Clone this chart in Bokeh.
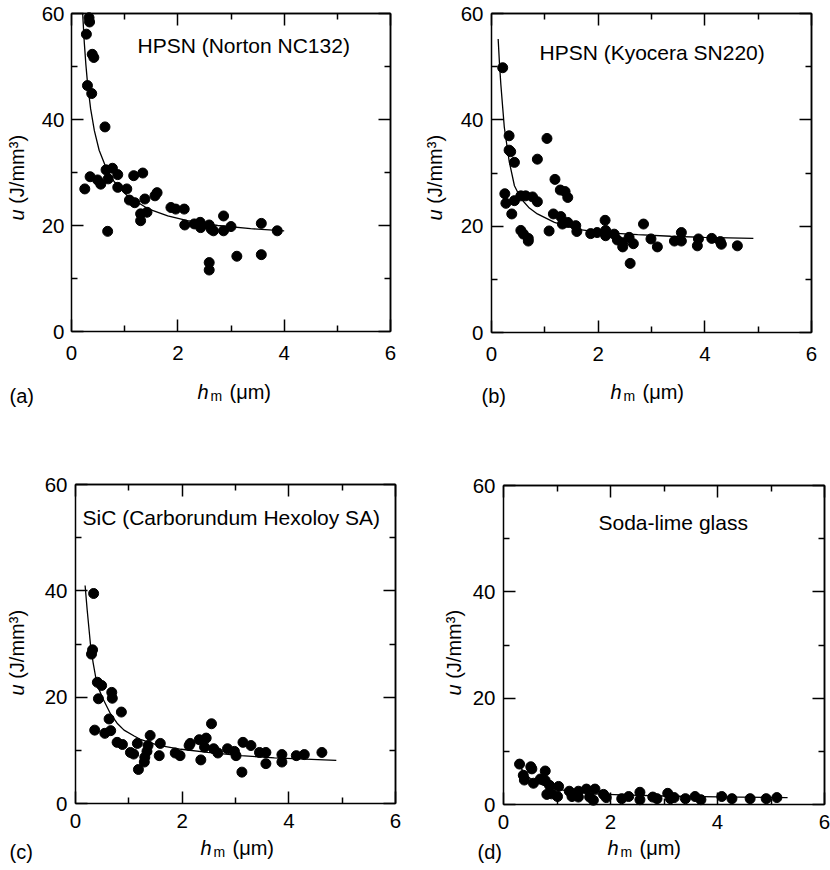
import math
from bokeh.plotting import figure
from bokeh.models import Range1d, FixedTicker, Label, LinearAxis
from bokeh.layouts import gridplot
from bokeh.embed import file_html
from bokeh.resources import INLINE

FONT = "Liberation Sans"

# ---------------- data ----------------
x_ticks = [0, 2, 4, 6]
x_minor = [1, 3, 5]
y_ticks = [0, 20, 40, 60]
y_minor = [10, 30, 50]
X_MIN, X_MAX = 0, 6
Y_MIN, Y_MAX = 0, 60

titles = ["HPSN (Norton NC132)", "HPSN (Kyocera SN220)",
          "SiC (Carborundum Hexoloy SA)", "Soda-lime glass"]
letters = ["(a)", "(b)", "(c)", "(d)"]

a_h = [0.33, 0.34, 0.28, 0.39, 0.42, 0.30, 0.38, 0.63, 0.25, 0.35, 0.49, 0.55,
       0.65, 0.69, 0.77, 0.87, 0.87, 1.04, 1.17, 1.34, 1.09, 1.19, 1.38, 1.57,
       1.61, 1.30, 1.30, 1.42, 0.68, 1.87, 1.96, 2.12, 2.13, 2.31, 2.42, 2.43,
       2.59, 2.63, 2.67, 2.86, 2.86, 3.00, 2.59, 2.59, 3.11, 3.57, 3.57, 3.87]
a_u = [59.2, 58.4, 56.1, 52.3, 51.7, 46.4, 44.9, 38.6, 26.9, 29.2, 28.6, 27.8,
       30.5, 28.8, 30.8, 29.6, 27.2, 26.9, 29.4, 29.9, 24.8, 24.3, 25.0, 25.6,
       26.2, 22.2, 20.9, 22.5, 18.9, 23.4, 23.1, 23.1, 20.1, 20.3, 20.6, 19.6,
       20.1, 19.3, 19.0, 21.8, 19.0, 19.8, 13.0, 11.6, 14.2, 20.4, 14.5, 19.0]
a_fit_h = [0.21, 0.24, 0.27, 0.30, 0.36, 0.43, 0.52, 0.65, 0.80, 1.05, 1.43,
           1.81, 2.18, 2.75, 3.37, 4.0]
a_fit_u = [60.0, 54.6, 50.4, 47.0, 42.0, 37.9, 34.2, 30.9, 28.3, 25.6, 23.2,
           21.8, 20.9, 20.0, 19.4, 19.0]

b_h = [0.21, 0.33, 0.33, 0.36, 0.43, 0.86, 1.04, 1.19, 1.29, 1.38, 1.43,
       0.25, 0.27, 0.38, 0.43, 0.55, 0.64, 0.77, 0.86, 0.55, 0.60, 0.69, 0.69,
       1.08, 1.16, 1.30, 1.33, 1.43, 1.58, 1.60, 1.86, 1.98, 2.13, 2.14, 2.14,
       2.30, 2.36, 2.46, 2.46, 2.58, 2.66, 2.60, 2.85, 2.99, 3.11, 3.43, 3.56,
       3.56, 3.88, 3.86, 4.13, 4.29, 4.31, 4.61]
b_u = [49.8, 37.0, 34.3, 34.0, 32.0, 32.6, 36.5, 28.8, 26.8, 26.5, 25.4,
       26.1, 24.3, 22.3, 24.8, 25.7, 25.7, 25.5, 24.6, 19.2, 18.5, 17.7, 17.2,
       19.1, 22.3, 21.8, 20.4, 20.7, 20.1, 19.0, 18.6, 18.8, 21.1, 19.2, 18.2,
       18.5, 17.4, 16.9, 16.1, 17.9, 16.7, 13.0, 20.4, 17.6, 16.1, 17.2, 18.8,
       17.2, 17.6, 16.3, 17.7, 17.1, 16.6, 16.3]
b_fit_h = [0.125, 0.15, 0.175, 0.21, 0.24, 0.33, 0.43, 0.55, 0.71, 0.86, 1.18,
           1.61, 2.11, 2.74, 3.36, 3.99, 4.91]
b_fit_u = [55.2, 50.5, 46.7, 42.3, 38.6, 32.3, 27.6, 25.2, 23.4, 22.3, 20.7,
           19.4, 18.8, 18.4, 18.1, 17.9, 17.7]

c_h = [0.34, 0.32, 0.30, 0.41, 0.49, 0.43, 0.68, 0.69, 0.86, 0.63, 0.36, 0.55,
       0.66, 0.78, 0.88, 1.03, 1.09, 1.16, 1.18, 1.29, 1.30, 1.34, 1.36, 1.40,
       1.57, 1.59, 1.87, 1.96, 2.13, 2.15, 2.32, 2.35, 2.42, 2.45, 2.55, 2.59,
       2.67, 2.85, 2.98, 3.01, 3.12, 3.14, 3.29, 3.45, 3.57, 3.57, 3.87, 3.87,
       4.14, 4.29, 4.62]
c_u = [39.5, 28.9, 28.1, 22.8, 22.2, 19.7, 20.9, 19.8, 17.2, 15.9, 13.8, 13.2,
       13.7, 11.5, 11.1, 9.6, 9.3, 11.3, 6.4, 7.8, 8.7, 9.8, 10.9, 12.8,
       9.0, 11.3, 9.5, 9.0, 10.9, 11.3, 12.0, 8.2, 10.6, 12.3, 15.0, 10.3,
       9.5, 10.3, 9.8, 9.0, 5.9, 11.5, 10.9, 9.6, 9.6, 7.5, 9.2, 7.8,
       9.0, 9.2, 9.6]
c_fit_h = [0.18, 0.22, 0.28, 0.33, 0.38, 0.44, 0.51, 0.66, 0.78, 0.91, 1.1,
           1.23, 1.54, 1.98, 2.48, 3.10, 3.73, 4.89]
c_fit_u = [41.0, 36.3, 30.0, 26.5, 23.7, 21.5, 19.8, 16.8, 15.1, 13.8, 12.7,
           12.0, 11.0, 10.2, 9.6, 9.0, 8.6, 8.1]

d_h = [0.30, 0.51, 0.53, 0.37, 0.39, 0.56, 0.69, 0.78, 0.78, 0.86, 0.81, 1.03,
       1.01, 0.90, 1.23, 1.28, 1.40, 1.40, 1.55, 1.61, 1.71, 1.68, 1.87, 1.92,
       2.21, 2.34, 2.55, 2.55, 2.79, 2.87, 3.07, 3.12, 3.19, 3.40, 3.58, 3.69,
       4.08, 4.27, 4.61, 4.91, 5.11]
d_u = [7.6, 7.1, 6.7, 5.5, 4.6, 4.0, 4.8, 6.3, 4.5, 3.6, 1.9, 3.4,
       1.5, 2.0, 2.5, 1.5, 2.5, 1.4, 2.9, 1.4, 2.9, 0.8, 1.9, 1.3,
       1.1, 1.5, 2.3, 0.9, 1.4, 1.1, 2.1, 1.1, 1.3, 1.1, 1.5, 0.9,
       1.5, 1.1, 1.1, 1.1, 1.3]
d_fit_h = [0.30, 0.40, 0.50, 0.65, 0.80, 1.0, 1.3, 1.7, 2.2, 3.0, 4.0, 5.31]
d_fit_u = [7.2, 5.8, 4.9, 4.0, 3.4, 2.9, 2.4, 2.0, 1.8, 1.6, 1.45, 1.3]

# ---------------- layout geometry (page pixels) ----------------
FIG_W, FIG_H = 415, 435
# (origin_x, origin_y, axes_left, axes_top, axes_w, axes_h, x_standoff, y_standoff)
geom = [
    (0,   0,   71,  13,  319, 318, 14, 7),
    (415, 0,   491, 13,  320, 319, 14, 8),
    (0,   435, 75,  484, 320, 319, 10, 8),
    (415, 435, 503, 485, 321, 319, 10, 8),
]
BASE_FIX = 9  # empirical shift of Bokeh's alphabetic baseline
title_pos = [(137, 54), (539, 61), (82, 526), (598, 531)]
ylab_pos = [(25, 220), (443, 220), (25, 695), (462, 695)]
xlab_pos = [(197, 400), (610, 400), (200, 856), (607, 856)]
letter_pos = [(9, 404), (481, 404), (9, 860), (477, 860)]

series = [(a_h, a_u, a_fit_h, a_fit_u), (b_h, b_u, b_fit_h, b_fit_u),
          (c_h, c_u, c_fit_h, c_fit_u), (d_h, d_u, d_fit_h, d_fit_u)]


def base_axis(ax):
    ax.axis_line_color = "black"
    ax.axis_line_width = 1.5
    ax.major_tick_line_color = "black"
    ax.major_tick_line_width = 1.5
    ax.minor_tick_line_color = "black"
    ax.minor_tick_line_width = 1.5
    ax.major_tick_in = 12
    ax.major_tick_out = 0
    ax.minor_tick_in = 6
    ax.minor_tick_out = 0
    ax.major_label_text_font = FONT
    ax.major_label_text_color = "black"
    ax.major_label_text_font_size = "20.5px"
    return ax


def mirror_axis(loc, bounds, ticks, length):
    ax = LinearAxis(ticker=FixedTicker(ticks=[], minor_ticks=ticks),
                    fixed_location=loc, bounds=bounds)
    ax.axis_line_color = "black"
    ax.axis_line_width = 1.5
    ax.major_tick_line_color = None
    ax.minor_tick_line_color = "black"
    ax.minor_tick_line_width = 1.5
    ax.minor_tick_in = length
    ax.minor_tick_out = 0
    return ax


figs = []
for i in range(4):
    ox, oy, L, T, fw, fh, xs, ys = geom[i]
    # the whole figure is the frame; axes box is placed at fixed data locations
    ux = (X_MAX - X_MIN) / fw   # data per pixel
    uy = (Y_MAX - Y_MIN) / fh
    xr = Range1d(X_MIN + (ox - L) * ux, X_MIN + (ox + FIG_W - L) * ux)
    yr = Range1d(Y_MIN + (T + fh - (oy + FIG_H)) * uy, Y_MIN + (T + fh - oy) * uy)

    def to_data(px, py, L=L, T=T, fh=fh, ux=ux, uy=uy):
        return X_MIN + (px - L) * ux, Y_MIN + (T + fh - py) * uy

    p = figure(width=FIG_W, height=FIG_H, x_range=xr, y_range=yr,
               x_axis_type=None, y_axis_type=None, min_border=0,
               output_backend="svg", toolbar_location=None)
    p.grid.visible = False
    p.outline_line_color = None
    p.background_fill_color = "white"
    p.border_fill_color = "white"

    bottom = base_axis(LinearAxis(ticker=FixedTicker(ticks=x_ticks, minor_ticks=x_minor),
                                  fixed_location=Y_MIN, bounds=(X_MIN, X_MAX)))
    bottom.major_label_standoff = xs
    p.add_layout(bottom, "below")
    left = base_axis(LinearAxis(ticker=FixedTicker(ticks=y_ticks, minor_ticks=y_minor),
                                fixed_location=X_MIN, bounds=(Y_MIN, Y_MAX)))
    left.major_label_standoff = ys
    p.add_layout(left, "left")
    p.add_layout(mirror_axis(Y_MAX, (X_MIN, X_MAX), x_ticks, 12), "above")
    p.add_layout(mirror_axis(Y_MAX, (X_MIN, X_MAX), x_minor, 6), "above")
    p.add_layout(mirror_axis(X_MAX, (Y_MIN, Y_MAX), y_ticks, 12), "right")
    p.add_layout(mirror_axis(X_MAX, (Y_MIN, Y_MAX), y_minor, 6), "right")

    h, u, fh_, fu_ = series[i]
    p.line(fh_, fu_, line_color="black", line_width=1.3)
    p.scatter(h, u, size=10, fill_color="black", line_color="black")

    def lab(px, py, text, size="20px", style="normal", angle=0.0):
        x, y = to_data(px, py)
        p.add_layout(Label(x=x, y=y, text=text, text_font=FONT,
                           text_font_size=size, text_font_style=style,
                           angle=angle, text_align="left",
                           text_baseline="alphabetic", text_color="black"))

    tx, ty = title_pos[i]
    lab(tx, ty - BASE_FIX, titles[i], size="21px")
    yx, yy = ylab_pos[i]
    lab(yx - BASE_FIX, yy, "u", style="italic", angle=math.pi / 2)
    lab(yx - BASE_FIX, yy - 16.7, "(J/mm\u00b3)", angle=math.pi / 2)
    xx, xy = xlab_pos[i]
    lab(xx, xy - BASE_FIX, "h", style="italic")
    lab(xx + 13, xy + 4 - BASE_FIX, "m", size="14px")
    lab(xx + 32, xy - BASE_FIX, "(\u03bcm)")
    lx, ly = letter_pos[i]
    lab(lx, ly - BASE_FIX, letters[i])
    figs.append(p)

grid = gridplot([[figs[0], figs[1]], [figs[2], figs[3]]],
                toolbar_location=None)

open("out.html", "w").write(file_html(grid, INLINE))
